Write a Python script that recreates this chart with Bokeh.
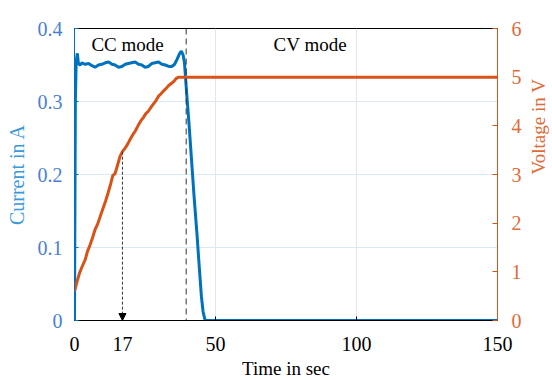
import math
import numpy as np
from bokeh.plotting import figure
from bokeh.models import (Range1d, LinearAxis, FixedTicker, Label, Arrow, NormalHead, Span)
from bokeh.embed import file_html
from bokeh.resources import INLINE

# ---- data ----
t_current = [0, 0.3, 0.6, 1.0, 1.4, 2.0, 2.6, 3.8, 5.0, 6.2, 7.3, 8.5, 9.7, 10.9, 12.1, 13.3,
             14.4, 15.6, 16.8, 18.0, 19.1, 20.3, 21.5, 22.7, 23.9, 25.0, 26.2, 27.4, 28.6,
             29.8, 31.0, 32.2, 33.4, 34.5, 35.5, 36.4, 37.3, 37.9, 38.5, 39.0, 39.8, 40.6,
             41.5, 42.4, 43.4, 44.3, 45.0, 45.6, 46.2, 46.8, 150]
current = [0, 0.30, 0.355, 0.366, 0.352, 0.350, 0.353, 0.351, 0.352, 0.349, 0.347, 0.350,
           0.351, 0.353, 0.354, 0.351, 0.350, 0.347, 0.348, 0.351, 0.352, 0.353, 0.354,
           0.351, 0.350, 0.347, 0.348, 0.352, 0.353, 0.354, 0.351, 0.350, 0.348, 0.348,
           0.351, 0.358, 0.366, 0.369, 0.364, 0.353, 0.31, 0.27, 0.22, 0.17, 0.12, 0.07,
           0.033, 0.012, 0.002, 0, 0]

t_voltage = [0.0, 0.8, 1.8, 2.8, 3.8, 4.6, 5.5, 6.4, 7.3, 8.2, 9.2, 10.1, 11.0, 11.9, 12.8,
             13.6, 14.4, 15.3, 16.2, 17.0, 17.8, 18.8, 19.8, 20.7, 21.6, 22.6, 23.5, 24.4,
             25.3, 26.2, 27.1, 28.0, 28.9, 29.8, 30.7, 31.6, 32.5, 33.4, 34.3, 35.2, 36.0,
             36.9, 150]
voltage = [0.60, 0.78, 0.98, 1.12, 1.25, 1.42, 1.55, 1.70, 1.87, 1.98, 2.15, 2.30, 2.45,
           2.62, 2.80, 2.98, 3.02, 3.20, 3.38, 3.47, 3.53, 3.62, 3.73, 3.82, 3.90, 4.01,
           4.10, 4.17, 4.25, 4.30, 4.38, 4.45, 4.52, 4.61, 4.66, 4.72, 4.77, 4.83, 4.87,
           4.91, 4.97, 5.00, 5.00]

x_ticks = [0, 17, 50, 100, 150]
left_ticks = [0, 0.1, 0.2, 0.3, 0.4]
left_labels = ["0", "0.1", "0.2", "0.3", "0.4"]
right_ticks = [0, 1, 2, 3, 4, 5, 6]
mode_switch_t = 39.6
marker_t = 17
mode_labels = ["CC mode", "CV mode"]
mode_label_t = [6, 70.6]
mode_label_i = [0.378, 0.378]

FONT = "Liberation Serif"
BLUE = "#0072BD"
ORANGE = "#D95319"

p = figure(frame_width=423, frame_height=292, output_backend="svg", toolbar_location=None,
           x_range=Range1d(0, 150), y_range=Range1d(0, 0.4),
           min_border_left=74, min_border_right=52, min_border_top=28, min_border_bottom=50)
p.extra_y_ranges = {"v": Range1d(0, 6)}
p.background_fill_color = "white"
p.border_fill_color = "white"
p.outline_line_color = "black"
p.outline_line_width = 1

# grids
p.xgrid.ticker = FixedTicker(ticks=[50, 100])
p.xgrid.grid_line_color = "#e6e6e6"
p.ygrid.ticker = FixedTicker(ticks=[0.1, 0.2, 0.3])
p.ygrid.grid_line_color = "#d9eaf7"

# x axis
xa = p.xaxis[0]
xa.ticker = FixedTicker(ticks=x_ticks)
xa.axis_label = "Time in sec"
xa.axis_label_text_font = FONT
xa.axis_label_text_font_style = "normal"
xa.axis_label_text_font_size = "19px"
xa.major_label_text_font = FONT
xa.major_label_text_font_size = "20px"
xa.major_label_text_color = "black"
xa.axis_label_text_color = "black"
xa.axis_line_color = "black"
xa.major_tick_in = 4
xa.major_tick_out = 0
xa.minor_tick_line_color = None
xa.major_label_standoff = 16
xa.axis_label_standoff = 4

# left axis
ya = p.yaxis[0]
ya.ticker = FixedTicker(ticks=left_ticks)
ya.major_label_overrides = {t: l for t, l in zip(left_ticks, left_labels)}
ya.axis_label = "Current in A"
ya.axis_label_text_font = FONT
ya.axis_label_text_font_style = "normal"
ya.axis_label_text_font_size = "20px"
ya.axis_label_text_color = "#3a9ad9"
ya.major_label_text_font = FONT
ya.major_label_text_font_size = "20px"
ya.major_label_text_color = "#4a7fd0"
ya.axis_line_color = BLUE
ya.major_tick_line_color = BLUE
ya.major_tick_in = 4
ya.major_tick_out = 0
ya.minor_tick_line_color = None
ya.major_label_standoff = 12
ya.axis_label_standoff = 7

# right axis
ra = LinearAxis(y_range_name="v", ticker=FixedTicker(ticks=right_ticks))
ra.axis_label = "Voltage in V"
ra.axis_label_orientation = math.pi / 2
ra.axis_label_text_font = FONT
ra.axis_label_text_font_style = "normal"
ra.axis_label_text_font_size = "19px"
ra.axis_label_text_color = "#e06a38"
ra.major_label_text_font = FONT
ra.major_label_text_font_size = "20px"
ra.major_label_text_color = "#e06a38"
ra.axis_line_color = ORANGE
ra.major_tick_line_color = ORANGE
ra.major_tick_in = 5
ra.major_tick_out = 0
ra.minor_tick_line_color = None
ra.major_label_standoff = 14
ra.axis_label_standoff = 14
p.add_layout(ra, "right")

# data lines
p.line(t_current, current, line_color=BLUE, line_width=3)
p.line(t_voltage, voltage, line_color=ORANGE, line_width=3, y_range_name="v")

# mode switch dashed line
p.add_layout(Span(location=mode_switch_t, dimension="height", line_color="#333333",
                  line_dash="6 4", line_width=1))

# arrow at t=17
v_marker = float(np.interp(marker_t, t_voltage, voltage))
p.add_layout(Arrow(end=NormalHead(size=7, fill_color="black", line_color="black"),
                   x_start=marker_t, y_start=v_marker, x_end=marker_t, y_end=0,
                   y_range_name="v", line_dash="3 2", line_color="#333333", line_width=1))

for txt, tx, ty in zip(mode_labels, mode_label_t, mode_label_i):
    p.add_layout(Label(x=tx, y=ty, text=txt, text_font=FONT, text_font_size="19px",
                       text_baseline="middle", text_color="black"))

open("out.html", "w").write(file_html(p, INLINE))
